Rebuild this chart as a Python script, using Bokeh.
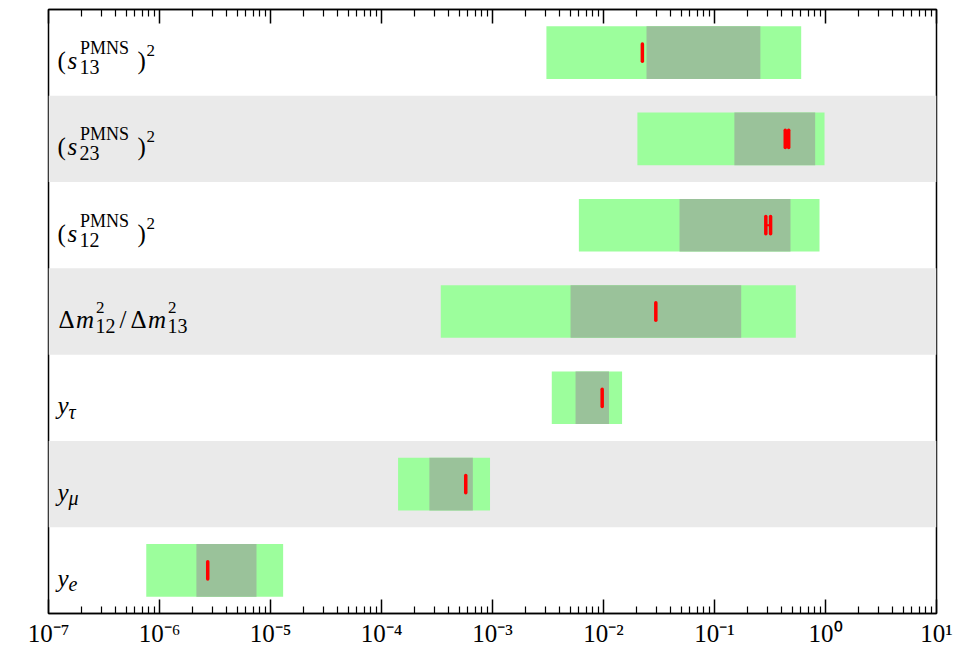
from bokeh.plotting import figure
from bokeh.models import (FixedTicker, LogAxis, BoxAnnotation, Range1d,
                          ColumnDataSource, CustomJSTickFormatter)
from bokeh.embed import file_html
from bokeh.resources import INLINE

# ---------------- data (rows listed top to bottom) ----------------
params = ["s13", "s23", "s12", "dm_ratio", "y_tau", "y_mu", "y_e"]
light_lo = [3.06e-3, 2.02e-2, 6.0e-3, 3.42e-4, 3.42e-3, 1.41e-4, 7.6e-7]
light_hi = [0.604, 0.98, 0.883, 0.54, 1.47e-2, 9.5e-4, 1.30e-5]
dark_lo = [2.44e-2, 0.151, 4.84e-2, 5.05e-3, 5.6e-3, 2.70e-4, 2.15e-6]
dark_hi = [0.259, 0.807, 0.484, 0.174, 1.12e-2, 6.65e-4, 7.48e-6]
best_fit = [[2.24e-2], [0.434, 0.466], [0.290, 0.320], [2.96e-2],
            [9.73e-3], [5.74e-4], [2.72e-6]]

decades = [-7, -6, -5, -4, -3, -2, -1, 0, 1]
tick_labels = ["10⁻⁷", "10⁻⁶", "10⁻⁵", "10⁻⁴", "10⁻³", "10⁻²", "10⁻¹", "10⁰", "10¹"]

n = len(params)
yc = [n - 1 - i + 0.5 for i in range(n)]

LIGHT = "#9cfe9c"
DARK = "#9ac29a"
BAND = "#eaeaea"
SERIF = "Liberation Serif"

p = figure(width=975, height=653, x_axis_type="log",
           x_range=Range1d(1e-7, 10), y_range=Range1d(0, n),
           output_backend="svg", toolbar_location=None,
           y_axis_location=None,
           min_border_left=48, min_border_right=39,
           min_border_top=9, min_border_bottom=40)
p.xgrid.visible = False
p.ygrid.visible = False
p.background_fill_color = "white"
p.border_fill_color = "white"
p.outline_line_color = "black"
p.outline_line_width = 1.5

# alternating grey bands
for i in range(n):
    if i % 2 == 1:
        p.add_layout(BoxAnnotation(bottom=yc[i] - 0.5, top=yc[i] + 0.5,
                                   fill_color=BAND, fill_alpha=1.0,
                                   line_color=None, level="underlay"))

src = ColumnDataSource(dict(y=yc, llo=light_lo, lhi=light_hi,
                            dlo=dark_lo, dhi=dark_hi))
p.hbar(y="y", left="llo", right="lhi", height=0.61, source=src,
       fill_color=LIGHT, line_color=None)
p.hbar(y="y", left="dlo", right="dhi", height=0.61, source=src,
       fill_color=DARK, line_color=None)

# best-fit marks
bx, by = [], []
cx0, cx1, cy = [], [], []
for i, vals in enumerate(best_fit):
    for v in vals:
        bx.append(v)
        by.append(yc[i])
    if len(vals) > 1:
        cx0.append(min(vals)); cx1.append(max(vals)); cy.append(yc[i])
p.segment(x0=bx, x1=bx, y0=[v - 0.1 for v in by], y1=[v + 0.1 for v in by],
          line_color="red", line_width=3.5, line_cap="round")
if cx0:
    p.segment(x0=cx0, x1=cx1, y0=cy, y1=cy, line_color="red", line_width=2)

# ---------------- axes ----------------
ticker = FixedTicker(ticks=[10.0 ** k for k in decades],
                     minor_ticks=[m * 10.0 ** k for k in decades[:-1] for m in range(2, 10)])
fmt = CustomJSTickFormatter(args=dict(labels=tick_labels, exps=decades), code="""
    const e = Math.round(Math.log10(tick));
    const i = exps.indexOf(e);
    return i >= 0 ? labels[i] : "";
""")

def style_axis(ax):
    ax.ticker = ticker
    ax.axis_line_color = "black"
    ax.axis_line_width = 1.5
    ax.major_tick_in = 14
    ax.major_tick_out = 0
    ax.minor_tick_in = 7
    ax.minor_tick_out = 0
    ax.major_tick_line_width = 1.5
    ax.minor_tick_line_width = 1.2
    ax.major_tick_line_color = "black"
    ax.minor_tick_line_color = "black"

xa = p.xaxis[0]
style_axis(xa)
xa.formatter = fmt
xa.major_label_text_font = SERIF
xa.major_label_text_font_size = "25px"
xa.major_label_text_color = "black"
xa.major_label_standoff = 6

top = LogAxis()
style_axis(top)
top.formatter = CustomJSTickFormatter(code="return ' ';")
top.major_label_text_font_size = "1px"
top.major_label_standoff = 0
p.add_layout(top, "above")

# ---------------- row labels (math-like composite text) ----------------
def s_label(sub):
    return [("(", 9, 8, "25px", "normal"),
            ("s", 19, 8, "25px", "italic"),
            (sub, 31, 14.5, "20px", "normal"),
            ("PMNS", 31.5, -4.5, "18px", "normal"),
            (")", 89, 8, "25px", "normal"),
            ("2", 98, -2, "17px", "normal")]

dm_label = [("Δ", 10, 8, "25px", "normal"),
            ("m", 27.5, 8, "25px", "italic"),
            ("2", 47.5, -4.5, "17px", "normal"),
            ("12", 47, 14.5, "20px", "normal"),
            ("/", 71, 8, "25px", "normal"),
            ("Δ", 82, 8, "25px", "normal"),
            ("m", 99.5, 8, "25px", "italic"),
            ("2", 119.5, -4.5, "17px", "normal"),
            ("13", 119, 14.5, "20px", "normal")]

def y_label(sub):
    return [("y", 9, 8, "25px", "italic"),
            (sub, 20, 14, "20px", "italic")]

row_labels = [s_label("13"), s_label("23"), s_label("12"), dm_label,
              y_label("τ"), y_label("μ"), y_label("e")]

lt = dict(x=[], y=[], text=[], xo=[], yo=[], size=[], style=[])
for i, pieces in enumerate(row_labels):
    for (t, dx, dy, sz, st) in pieces:
        lt["x"].append(1e-7)
        lt["y"].append(yc[i])
        lt["text"].append(t)
        lt["xo"].append(dx)
        lt["yo"].append(dy)
        lt["size"].append(sz)
        lt["style"].append(st)
p.text(x="x", y="y", text="text", x_offset="xo", y_offset="yo",
       text_font_size="size", text_font_style="style", text_font=SERIF,
       text_align="left", text_baseline="alphabetic", text_color="black",
       source=ColumnDataSource(lt))

open("out.html", "w").write(file_html(p, INLINE))
